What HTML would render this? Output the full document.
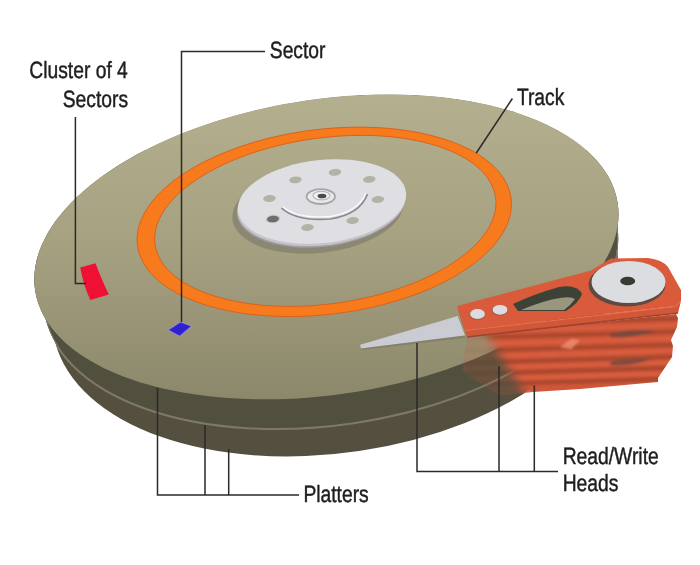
<!DOCTYPE html>
<html><head><meta charset="utf-8">
<style>
html,body{margin:0;padding:0;background:#fff;width:700px;height:565px;overflow:hidden}
svg{display:block;will-change:transform}
text{font-family:"Liberation Sans",sans-serif;fill:#1e1e1e;text-rendering:geometricPrecision}
</style></head>
<body>
<svg width="700" height="565" viewBox="0 0 700 565">
<defs>
  <linearGradient id="topg" x1="0" y1="94" x2="0" y2="398" gradientUnits="userSpaceOnUse">
    <stop offset="0" stop-color="#b4af8e"/>
    <stop offset="0.51" stop-color="#a5a080"/>
    <stop offset="1" stop-color="#8c886b"/>
  </linearGradient>
</defs>
<rect width="700" height="565" fill="#fff"/>

<!-- lower platter stack -->
<defs><clipPath id="sweep"><ellipse rx="294.50" ry="147.75" transform="translate(326.40 246.90) rotate(-8.470)" /><ellipse rx="289.72" ry="154.77" transform="translate(330.80 268.96) rotate(-8.468)" /><ellipse rx="284.94" ry="161.79" transform="translate(335.21 291.03) rotate(-8.465)" /></clipPath></defs>
<g clip-path="url(#sweep)">
<rect x="0" y="150" width="700" height="350" fill="#554f40"/>
<ellipse rx="294.50" ry="147.75" transform="translate(326.40 246.90) rotate(-8.470)" fill="#514f3e"/><ellipse rx="292.01" ry="151.40" transform="translate(328.69 258.37) rotate(-8.469)" fill="#514f3e"/><ellipse rx="289.53" ry="155.05" transform="translate(330.98 269.85) rotate(-8.467)" fill="#514f3e"/>
<ellipse rx="289.53" ry="155.05" transform="translate(330.98 269.85) rotate(-8.467)" fill="none" stroke="#7d7964" stroke-width="2"/>
</g>
<!-- top surface -->
<path fill="url(#topg)" d="M617.7 203.5 L618.3 208.6 L618.5 213.8 L618.4 219.0 L617.9 224.3 L617.0 229.6 L615.8 234.9 L614.3 240.2 L612.4 245.5 L610.2 250.8 L607.6 256.1 L604.6 261.4 L601.4 266.7 L597.7 272.0 L593.8 277.2 L589.5 282.4 L585.0 287.6 L580.1 292.7 L574.8 297.7 L569.3 302.7 L563.5 307.6 L557.4 312.5 L551.1 317.2 L544.4 321.9 L537.5 326.5 L530.3 331.0 L522.9 335.4 L515.2 339.6 L507.3 343.8 L499.2 347.8 L490.9 351.8 L482.4 355.6 L473.7 359.2 L464.8 362.8 L455.7 366.1 L446.5 369.4 L437.1 372.5 L427.6 375.4 L418.0 378.2 L408.2 380.8 L398.4 383.3 L388.5 385.6 L378.5 387.7 L368.4 389.7 L358.3 391.4 L348.2 393.0 L338.0 394.5 L327.8 395.7 L317.6 396.8 L307.4 397.7 L297.3 398.4 L287.1 398.9 L277.0 399.2 L267.0 399.3 L257.1 399.3 L247.2 399.1 L237.5 398.6 L227.8 398.0 L218.3 397.3 L208.9 396.3 L199.6 395.1 L190.5 393.8 L181.6 392.3 L172.8 390.6 L164.2 388.8 L155.8 386.7 L147.7 384.5 L139.7 382.2 L132.0 379.6 L124.5 376.9 L117.2 374.1 L110.3 371.1 L103.5 367.9 L97.1 364.6 L90.9 361.1 L85.0 357.5 L79.4 353.8 L74.1 350.0 L69.1 346.0 L64.5 341.9 L60.1 337.6 L56.1 333.3 L52.4 328.9 L49.0 324.3 L46.0 319.7 L43.3 315.0 L41.0 310.2 L39.0 305.3 L37.3 300.4 L36.0 295.4 L35.1 290.3 L34.5 285.2 L34.3 280.0 L34.4 274.8 L34.9 269.5 L35.8 264.2 L37.0 258.9 L38.5 253.6 L40.4 248.3 L42.6 243.0 L45.2 237.7 L48.2 232.4 L51.4 227.1 L55.1 221.8 L59.0 216.6 L63.3 211.4 L67.8 206.2 L72.7 201.1 L78.0 196.1 L83.5 191.1 L89.3 186.2 L95.4 181.3 L101.7 176.6 L108.4 171.9 L115.3 167.3 L122.5 162.8 L129.9 158.4 L137.6 154.2 L145.5 150.0 L153.6 146.0 L161.9 142.0 L170.4 138.2 L179.1 134.6 L188.0 131.0 L197.1 127.7 L206.3 124.4 L215.7 121.3 L225.2 118.4 L234.8 115.6 L244.6 113.0 L254.4 110.5 L264.3 108.2 L274.3 106.1 L284.4 104.1 L294.5 102.4 L304.6 100.8 L314.8 99.3 L325.0 98.1 L335.2 97.0 L345.4 96.1 L355.5 95.4 L365.7 94.9 L375.8 94.6 L385.8 94.5 L395.7 94.5 L405.6 94.7 L415.3 95.2 L425.0 95.8 L434.5 96.5 L443.9 97.5 L453.2 98.7 L462.3 100.0 L471.2 101.5 L480.0 103.2 L488.6 105.0 L497.0 107.1 L505.1 109.3 L513.1 111.6 L520.8 114.2 L528.3 116.9 L535.6 119.7 L542.5 122.7 L549.3 125.9 L555.7 129.2 L561.9 132.7 L567.8 136.3 L573.4 140.0 L578.7 143.8 L583.7 147.8 L588.3 151.9 L592.7 156.2 L596.7 160.5 L600.4 164.9 L603.8 169.5 L606.8 174.1 L609.5 178.8 L611.8 183.6 L613.8 188.5 L615.5 193.4 L616.8 198.4Z"/>

<!-- track -->
<path fill="#f77a1c" stroke="#d9621c" stroke-width="1" fill-rule="evenodd" d="M511.1 198.6 L511.4 203.4 L511.2 208.3 L510.6 213.2 L509.4 218.2 L507.7 223.1 L505.5 228.1 L502.8 233.0 L499.6 237.9 L495.9 242.8 L491.8 247.6 L487.2 252.3 L482.1 257.0 L476.6 261.5 L470.7 266.0 L464.4 270.3 L457.8 274.5 L450.7 278.5 L443.3 282.4 L435.6 286.1 L427.6 289.7 L419.3 293.1 L410.7 296.2 L401.9 299.2 L392.9 301.9 L383.7 304.5 L374.3 306.8 L364.8 308.9 L355.2 310.7 L345.5 312.3 L335.7 313.6 L325.9 314.7 L316.1 315.6 L306.4 316.2 L296.6 316.5 L287.0 316.5 L277.4 316.3 L268.0 315.9 L258.8 315.2 L249.7 314.2 L240.8 313.0 L232.1 311.5 L223.7 309.8 L215.6 307.8 L207.8 305.7 L200.3 303.2 L193.1 300.6 L186.3 297.7 L179.9 294.7 L173.8 291.4 L168.2 287.9 L163.0 284.3 L158.3 280.5 L154.0 276.5 L150.2 272.4 L146.8 268.1 L143.9 263.7 L141.6 259.2 L139.7 254.6 L138.3 249.9 L137.5 245.2 L137.1 240.3 L137.3 235.4 L138.0 230.5 L139.2 225.6 L140.9 220.6 L143.1 215.7 L145.8 210.7 L149.0 205.8 L152.6 201.0 L156.8 196.1 L161.4 191.4 L166.4 186.8 L171.9 182.2 L177.8 177.8 L184.1 173.4 L190.8 169.2 L197.8 165.2 L205.2 161.3 L212.9 157.6 L221.0 154.0 L229.3 150.7 L237.8 147.5 L246.6 144.5 L255.7 141.8 L264.9 139.2 L274.2 136.9 L283.7 134.9 L293.4 133.0 L303.1 131.4 L312.8 130.1 L322.6 129.0 L332.4 128.1 L342.2 127.6 L351.9 127.2 L361.6 127.2 L371.1 127.4 L380.5 127.8 L389.8 128.5 L398.9 129.5 L407.8 130.7 L416.4 132.2 L424.8 133.9 L432.9 135.9 L440.8 138.1 L448.3 140.5 L455.4 143.1 L462.2 146.0 L468.7 149.1 L474.7 152.3 L480.3 155.8 L485.5 159.4 L490.3 163.2 L494.6 167.2 L498.4 171.3 L501.7 175.6 L504.6 180.0 L507.0 184.5 L508.8 189.1 L510.2 193.8Z M495.6 197.4 L496.0 201.7 L495.8 206.1 L495.3 210.5 L494.2 215.0 L492.7 219.5 L490.8 223.9 L488.4 228.4 L485.5 232.9 L482.2 237.3 L478.5 241.6 L474.3 246.0 L469.7 250.2 L464.8 254.4 L459.5 258.4 L453.7 262.4 L447.7 266.3 L441.3 270.0 L434.6 273.6 L427.6 277.0 L420.3 280.3 L412.7 283.5 L404.9 286.4 L396.9 289.2 L388.7 291.8 L380.4 294.2 L371.8 296.4 L363.2 298.4 L354.4 300.2 L345.6 301.8 L336.7 303.1 L327.7 304.2 L318.8 305.1 L309.9 305.8 L301.0 306.2 L292.2 306.4 L283.5 306.3 L274.9 306.1 L266.4 305.6 L258.1 304.8 L250.0 303.8 L242.1 302.6 L234.4 301.2 L227.0 299.6 L219.8 297.7 L212.9 295.6 L206.4 293.4 L200.1 290.9 L194.2 288.2 L188.7 285.4 L183.5 282.4 L178.8 279.2 L174.4 275.8 L170.4 272.3 L166.9 268.7 L163.8 264.9 L161.1 261.0 L158.9 257.0 L157.2 252.9 L155.9 248.7 L155.0 244.4 L154.7 240.1 L154.8 235.7 L155.4 231.2 L156.4 226.8 L157.9 222.3 L159.9 217.8 L162.3 213.4 L165.1 208.9 L168.5 204.5 L172.2 200.1 L176.3 195.8 L180.9 191.6 L185.8 187.4 L191.2 183.3 L196.9 179.4 L202.9 175.5 L209.3 171.8 L216.1 168.2 L223.1 164.7 L230.4 161.4 L237.9 158.3 L245.7 155.3 L253.7 152.6 L261.9 150.0 L270.3 147.6 L278.8 145.4 L287.5 143.4 L296.2 141.6 L305.1 140.0 L314.0 138.7 L322.9 137.6 L331.8 136.7 L340.7 136.0 L349.6 135.6 L358.4 135.4 L367.1 135.4 L375.7 135.7 L384.2 136.2 L392.5 137.0 L400.6 137.9 L408.5 139.1 L416.2 140.6 L423.7 142.2 L430.8 144.1 L437.7 146.1 L444.3 148.4 L450.5 150.9 L456.4 153.6 L461.9 156.4 L467.1 159.4 L471.9 162.6 L476.3 166.0 L480.2 169.5 L483.8 173.1 L486.9 176.9 L489.5 180.8 L491.7 184.8 L493.5 188.9 L494.8 193.1Z"/>

<!-- spindle -->
<ellipse cx="0" cy="0" rx="86" ry="43" fill="#868370" opacity="0.85" transform="translate(318 210) rotate(-6.3)"/>
<ellipse cx="0" cy="0" rx="84.5" ry="41.5" fill="#9c9ca0" transform="translate(321 205.5) rotate(-6.3)"/>
<ellipse cx="0" cy="0" rx="84.5" ry="41.5" fill="#c4c4c8" transform="translate(321.5 204) rotate(-6.3)"/>
<ellipse cx="0" cy="0" rx="84.5" ry="41.5" fill="#dfdfe3" transform="translate(322 201.5) rotate(-6.3)"/>
<ellipse cx="335" cy="172.3" rx="6.3" ry="3.4" fill="#b3b2a4" transform="rotate(-6 335 172.3)"/><ellipse cx="295.5" cy="179.9" rx="6.3" ry="3.4" fill="#b3b2a4" transform="rotate(-6 295.5 179.9)"/><ellipse cx="369.3" cy="179.4" rx="6.3" ry="3.4" fill="#b3b2a4" transform="rotate(-6 369.3 179.4)"/><ellipse cx="269.5" cy="198.5" rx="6.3" ry="3.4" fill="#b3b2a4" transform="rotate(-6 269.5 198.5)"/><ellipse cx="377.9" cy="199.5" rx="6.3" ry="3.4" fill="#b3b2a4" transform="rotate(-6 377.9 199.5)"/><ellipse cx="307.5" cy="227.5" rx="6.3" ry="3.4" fill="#b3b2a4" transform="rotate(-6 307.5 227.5)"/><ellipse cx="352.7" cy="220.5" rx="6.3" ry="3.4" fill="#b3b2a4" transform="rotate(-6 352.7 220.5)"/>
<ellipse cx="273" cy="219" rx="7.5" ry="4.3" fill="#c8c8cc" transform="rotate(-6 273 219)"/>
<ellipse cx="273" cy="219" rx="6" ry="3.3" fill="#6e6e68" transform="rotate(-6 273 219)"/>
<path d="M283 206.5Q296 219 330 216.5Q358 212 366 193" fill="none" stroke="#fafafc" stroke-width="1.4"/>
<path d="M281.5 208Q296 221.5 330 219Q360 214.5 367.5 194" fill="none" stroke="#8a8a8e" stroke-width="1.7"/>
<ellipse cx="320.8" cy="196.6" rx="14.2" ry="7.4" fill="#e9e9ec" stroke="#a6a6aa" stroke-width="1.8"/>
<ellipse cx="321.5" cy="195.6" rx="8.5" ry="4.3" fill="#f0f0f2" stroke="#b8b8bc" stroke-width="1.2"/>
<ellipse cx="322" cy="196" rx="4.4" ry="2.3" fill="#4a4a4c"/>
<!-- red cluster -->
<path d="M80.2 267.5L95.6 263.3Q100 276 108.8 294.6L90.3 299.9Q84 287 80.2 267.5Z" fill="#ee1133"/>
<!-- blue sector -->
<path d="M168.1 330.1L180.5 322L191.5 326.2L179.8 336.2Z" fill="#3020d0" stroke="#a8a2d8" stroke-width="1.2" stroke-opacity="0.55" stroke-linejoin="round"/>

<!-- lower arms (translucent) -->
<defs>
  <linearGradient id="armfade" x1="468" y1="0" x2="540" y2="0" gradientUnits="userSpaceOnUse">
    <stop offset="0" stop-color="#fff" stop-opacity="0.08"/>
    <stop offset="0.5" stop-color="#fff" stop-opacity="0.5"/>
    <stop offset="1" stop-color="#fff" stop-opacity="1"/>
  </linearGradient>
  <filter id="mblur" x="-20%" y="-20%" width="140%" height="140%"><feGaussianBlur stdDeviation="5"/></filter>
  <mask id="armmask" maskUnits="userSpaceOnUse" x="400" y="250" width="300" height="170"><rect x="400" y="250" width="300" height="170" fill="#fff" fill-opacity="0.18"/><path d="M480 325L700 295L700 420L532 405Z" fill="#fff" filter="url(#mblur)"/></mask>
  <clipPath id="stackclip"><path d="M467 337L676 314L678 318L677 327L671 340L673 346L672 357L658 378L658 382L580 389L533 392L500 396L462 372Z"/></clipPath>
</defs>
<defs><filter id="soft" x="-5%" y="-5%" width="110%" height="110%"><feGaussianBlur stdDeviation="0.9"/></filter></defs>
<g mask="url(#armmask)"><g clip-path="url(#stackclip)"><g filter="url(#soft)">
<rect x="440" y="300" width="250" height="110" fill="#cf5639"/>
<g stroke="#a9472f" stroke-width="4.5" fill="none" opacity="0.9"><path d="M460 325.2L690 318.3"/><path d="M460 338.2L690 331.3"/><path d="M460 351.2L690 344.3"/><path d="M460 363.2L690 356.3"/><path d="M460 374.2L690 367.3"/><path d="M460 385.2L690 378.3"/></g>
<g stroke="#de6242" stroke-width="2.5" fill="none" opacity="0.8"><path d="M460 331.7L690 324.8"/><path d="M460 344.7L690 337.8"/><path d="M460 357.2L690 350.3"/><path d="M460 368.7L690 361.8"/><path d="M460 379.7L690 372.8"/></g>
<path d="M560 347L571 339L580 340L571 349Z" fill="#f09070" opacity="0.8"/>
<g fill="#6e4a40" opacity="0.8">
  <path d="M610 334Q632 328 656 331Q632 339 610 337Z"/>
  <path d="M610 362Q630 357 652 359Q630 367 610 365Z"/>
</g>
</g></g></g>
<!-- needle -->
<path d="M360.2 344.8L457.7 316L465 335.5L361 348.5Z" fill="#cbcbd3"/>
<path d="M361 348.5L465 335.5L465 338L362 350Z" fill="#7a7868" opacity="0.6"/>
<!-- top arm -->
<path d="M465 330L676 306L681 301L678 313L467 337Z" fill="#d25738"/>
<path d="M467 337L678 313" stroke="#9e4530" stroke-width="1.6" fill="none"/>
<path d="M465 330.5L676 306.5" stroke="#e8734f" stroke-width="1" fill="none"/>
<path d="M457 306L465 330L467 337L459 313Z" fill="#9c3e28"/>
<path d="M457 306L591 270.5L611 258.6L648 258Q662 259.5 668 267L681 290L681 301L676 306L465 330Z" fill="#d95b3b"/>
<!-- slot -->
<path d="M513 304Q534 294 559 287Q577 284 582 294Q579 303 566 311L518 311Z" fill="#3d4236"/>
<path d="M521 310Q545 300 560 298Q571 296 575 299Q571 305 564 310Z" fill="#9a967e"/>
<!-- rivets -->
<ellipse cx="477" cy="314.6" rx="8" ry="5.4" fill="#a85a48"/>
<ellipse cx="477.5" cy="314" rx="7.4" ry="4.9" fill="#dcdce0"/>
<ellipse cx="499.5" cy="310.4" rx="8" ry="5.4" fill="#a85a48"/>
<ellipse cx="500" cy="309.8" rx="7.4" ry="4.9" fill="#dcdce0"/>
<!-- pivot disk -->
<ellipse cx="627" cy="284.5" rx="38.5" ry="22" fill="#5e4a40"/>
<ellipse cx="628.5" cy="282" rx="37" ry="21" fill="#dcdde1"/>
<ellipse cx="627.7" cy="281" rx="7.5" ry="4.3" fill="#3a3a35"/>
<!-- leader lines -->
<g stroke="#2a2a2a" stroke-width="1.5" fill="none">
  <path d="M265 51.4H181.5V322"/>
  <path d="M75.4 117V283.5H86"/>
  <path d="M512.4 98.5L476.3 153"/>
  <path d="M157.5 388V495H299 M205 425V495 M228.7 449V495"/>
  <path d="M417 343V471.5H558 M499 366V471.5 M534.3 385.6V471.5"/>
</g>

<!-- labels -->
<g font-size="23.5" stroke="#1e1e1e" stroke-width="0.45">
  <text x="29.3" y="78.3" transform="translate(29.3 0) scale(0.82 1) translate(-29.3 0)">Cluster of 4</text>
  <text x="62.7" y="106.6" transform="translate(62.7 0) scale(0.82 1) translate(-62.7 0)">Sectors</text>
  <text x="269.8" y="57.9" transform="translate(269.8 0) scale(0.82 1) translate(-269.8 0)">Sector</text>
  <text x="516.9" y="105.1" transform="translate(516.9 0) scale(0.82 1) translate(-516.9 0)">Track</text>
  <text x="562.7" y="464" transform="translate(562.7 0) scale(0.82 1) translate(-562.7 0)">Read/Write</text>
  <text x="562.7" y="491.4" transform="translate(562.7 0) scale(0.82 1) translate(-562.7 0)">Heads</text>
  <text x="303.4" y="501.7" transform="translate(303.4 0) scale(0.82 1) translate(-303.4 0)">Platters</text>
</g>
</svg>
</body></html>
